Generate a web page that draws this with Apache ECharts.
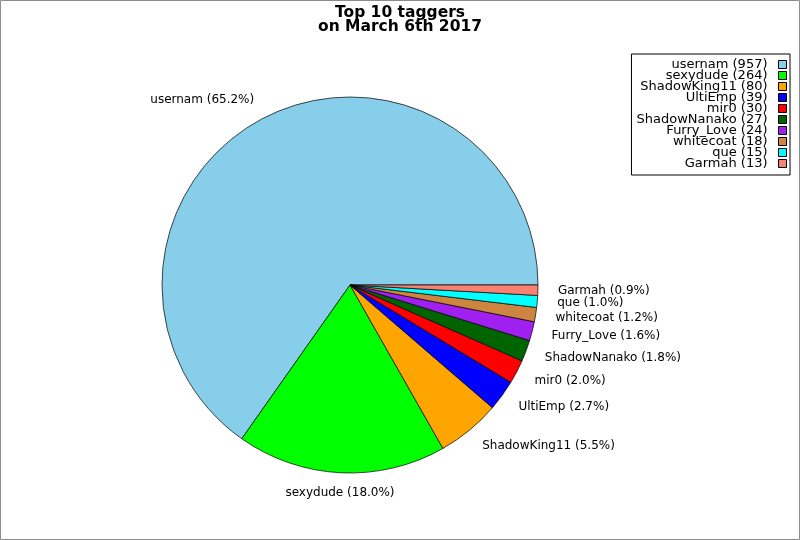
<!DOCTYPE html>
<html>
<head>
<meta charset="UTF-8"/>
<title>Top 10 taggers</title>
<script src="https://cdn.jsdelivr.net/npm/echarts@6.0.0/dist/echarts.min.js"></script>
<style>
html,body{margin:0;padding:0;background:#fff;}
#main{width:800px;height:540px;}
</style>
<script type="text/javascript">
var names=['usernam','sexydude','ShadowKing11','UltiEmp','mir0','ShadowNanako','Furry_Love','whitecoat','que','Garmah'];
var counts=[957,264,80,39,30,27,24,18,15,13];
var colors=['#87CEEB','#00FF00','#FFA500','#0000FF','#FF0000','#006400','#A020F0','#CD853F','#00FFFF','#FA8072'];
var centeredLabels=['sexydude'];

function drawChart(){
	var myChart = echarts.init(document.getElementById('main'));
	var total = 0;
	for(var i=0;i<counts.length;i++){ total += counts[i]; }
	var pieData = [];
	for(var i=0;i<names.length;i++){
		pieData.push({name:names[i], value:counts[i], itemStyle:{color:colors[i]}});
	}
	var option = {
		animation: false,
		textStyle: {fontFamily: 'DejaVu Sans'},
		title: {
			text: 'Top 10 taggers\non March 6th 2017',
			left: 'center',
			top: 1,
			textStyle: {fontSize: 15.5, fontWeight: 'bold', color: '#000', lineHeight: 14, fontFamily: 'DejaVu Sans'}
		},
		graphic: [{
			type: 'rect',
			shape: {x: 0.5, y: 0.5, width: 799, height: 539},
			style: {fill: 'none', stroke: '#8c8c8c', lineWidth: 1},
			silent: true
		}],
		legend: {
			orient: 'vertical',
			right: 10,
			top: 54,
			align: 'right',
			icon: 'rect',
			itemWidth: 8,
			itemHeight: 8,
			itemGap: -2,
			padding: [4, 3, 5, 5],
			borderColor: '#000',
			borderWidth: 1,
			borderRadius: 0,
			itemStyle: {borderColor: '#000', borderWidth: 1},
			formatter: function(name){
				return name + ' (' + counts[names.indexOf(name)] + ')';
			},
			textStyle: {fontSize: 13, color: '#000', lineHeight: 11, padding: [0, 6, 0, 0], fontFamily: 'DejaVu Sans'},
			data: names
		},
		series: [{
			type: 'pie',
			center: [350, 285],
			radius: 188,
			startAngle: 0,
			clockwise: false,
			avoidLabelOverlap: false,
			itemStyle: {borderColor: '#000', borderWidth: 0.7},
			emphasis: {disabled: true},
			label: {
				show: true,
				position: 'outside',
				distanceToLabelLine: 0,
				fontSize: 12,
				color: '#000',
				fontFamily: 'DejaVu Sans',
				formatter: function(p){
					return p.name + ' (' + (p.value / total * 100).toFixed(1) + '%)';
				}
			},
			labelLine: {show: false, length: 20, length2: 0},
			labelLayout: function(p){
				if(centeredLabels.indexOf(names[p.dataIndex]) >= 0){
					return {dx: p.labelRect.width / 2};
				}
				return {};
			},
			data: pieData
		}]
	};
	myChart.setOption(option);
}
window.onload = drawChart;
</script>
</head>
<body>
<div id="main"></div>
</body>
</html>
